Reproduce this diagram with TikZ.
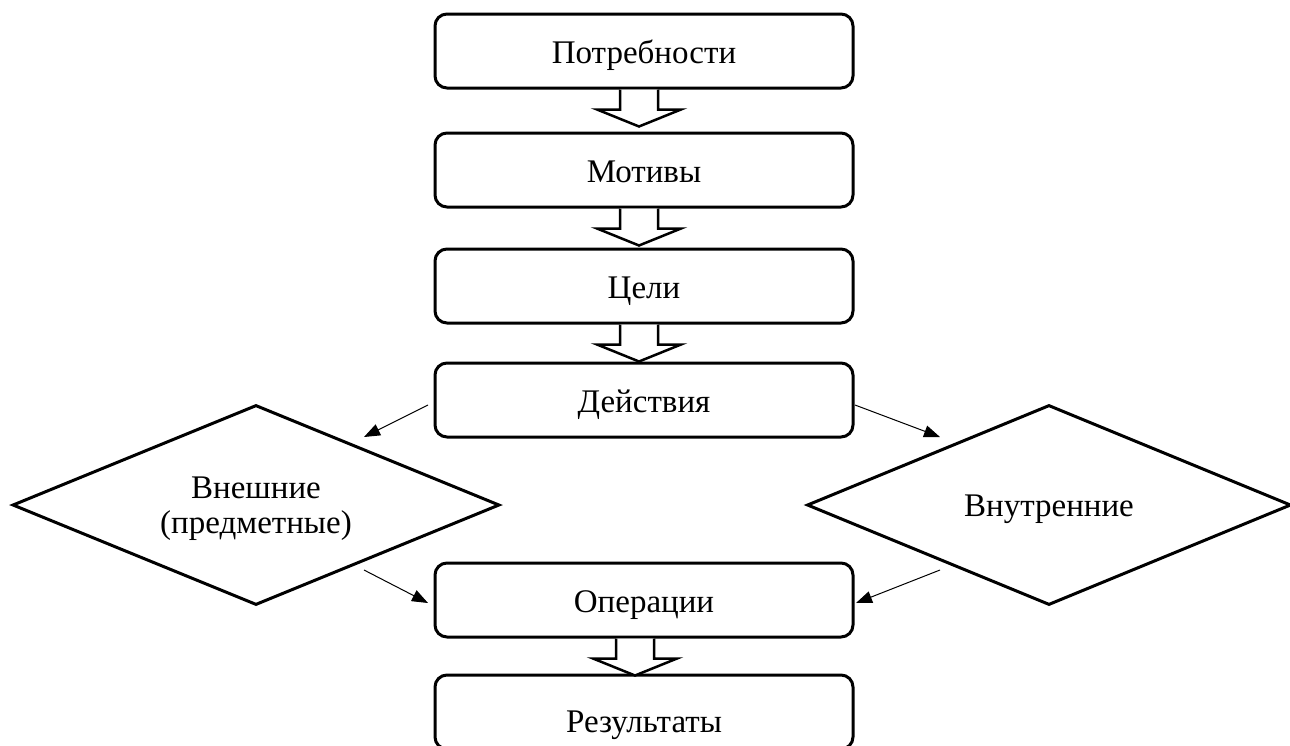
\documentclass[tikz,border=0pt]{standalone}
\usepackage{fontspec}
\setmainfont{Liberation Serif}
\usetikzlibrary{shapes.geometric,calc,arrows.meta}
\begin{document}
\begin{tikzpicture}[x=1pt,y=-1pt,
  box/.style={draw,line width=3pt,rounded corners=12pt,minimum width=418pt,minimum height=74pt,inner sep=0pt,text height=24pt,text depth=0pt,font=\fontsize{33}{36}\selectfont},
  dia/.style={draw,diamond,line width=3pt,aspect=2.4,minimum width=#1,minimum height=200pt,inner sep=0pt},
  lbl/.style={anchor=base,inner sep=0pt,font=\fontsize{33}{36}\selectfont},
  thin/.style={line width=1pt,-{Triangle[length=16pt,width=12pt]}},
  hollowarr/.pic={\draw[line width=2.5pt,fill=white,line join=miter] (-19,0) -- (-19,20) -- (-42,20) -- (0,37) -- (42,20) -- (19,20) -- (19,0);}
]
\useasboundingbox (0,0) rectangle (1290,745);
\node[box] (b1) at (644,51) {Потребности};
\node[box] (b2) at (644,170) {Мотивы};
\node[box] (b3) at (644,286) {Цели};
\node[box] (b4) at (644,400) {Действия};
\node[box] (b5) at (644,600) {Операции};
\node[box,text height=40pt] (b6) at (644,712) {Результаты};
\node[dia=487pt] (dl) at (256,505) {};
\node[dia=484pt] (dr) at (1049,505) {};
\node[lbl] (dlt1) at (256,498) {Внешние};
\node[lbl] (dlt2) at (256,533) {(предметные)};
\node[lbl] (drt) at (1049,516) {Внутренние};
\path ($(b1.south)+(-5,0)$) pic {hollowarr};
\path ($(b2.south)+(-5,0)$) pic {hollowarr};
\path ($(b3.south)+(-5,0)$) pic {hollowarr};
\path ($(b5.south)+(-9,0)$) pic {hollowarr};
\coordinate (l1s) at (428,405);
\coordinate (l1e) at (364,437);
\coordinate (l2s) at (364,570);
\coordinate (l2e) at (428,603);
\coordinate (r1s) at (855,405);
\coordinate (r1e) at (940,437);
\coordinate (r2s) at (940,570);
\coordinate (r2e) at (856,603);
\draw[thin] (l1s) -- (l1e);
\draw[thin] (l2s) -- (l2e);
\draw[thin] (r1s) -- (r1e);
\draw[thin] (r2s) -- (r2e);
\end{tikzpicture}
\end{document}
